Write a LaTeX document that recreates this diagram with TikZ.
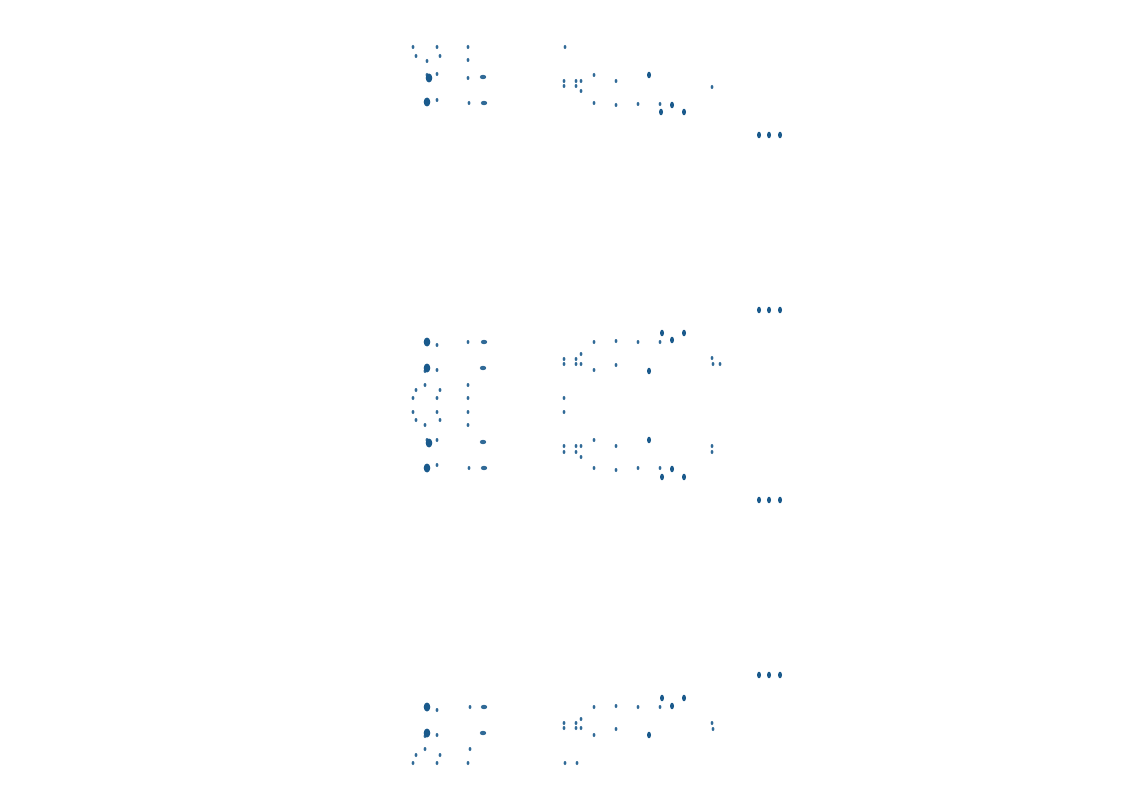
\documentclass[tikz,border=0pt]{standalone}
\usepackage{tikz}

\definecolor{speckblue}{HTML}{1A5A8C}

\tikzset{
  speck/.style={fill=speckblue, opacity=0.9},
  blob/.style={fill=speckblue}
}

\begin{document}
\begin{tikzpicture}[x=0.01cm, y=-0.01cm]
        \useasboundingbox[fill=white] (0,0) rectangle (1133,791);

        % small marks
        \foreach \px/\py in {413/47, 437/47, 468/47, 565/47, 416/56, 440/56, 427/61, 468/60,
                             427/75, 437/74, 468/78, 437/100, 469/103,
                             564/81, 564/86, 576/81, 576/86, 581/81, 581/91, 594/75, 616/81, 712/87,
                             594/103, 616/105, 638/104, 660/104,
                             437/345, 468/342, 425/371, 437/370,
                             425/385, 416/390, 440/390, 413/398, 437/398, 468/385, 468/398,
                             413/412, 437/412, 468/412, 416/420, 440/420, 425/425, 468/425,
                             427/440, 437/440, 437/465, 469/468,
                             594/342, 616/341, 638/342, 660/342,
                             581/354, 564/359, 576/359, 564/364, 576/364, 581/364,
                             594/370, 616/365, 712/358, 713/364, 720/364,
                             564/398, 564/412,
                             594/440, 616/446, 564/446, 576/446, 581/446, 564/452, 576/452, 581/457,
                             712/446, 712/452,
                             594/468, 616/470, 638/468, 660/468,
                             437/710, 470/707, 594/707, 616/706, 638/707, 660/707,
                             581/719, 564/723, 576/723, 564/728, 576/728, 581/728,
                             594/735, 616/729, 712/723, 713/729,
                             425/736, 437/735, 425/749, 470/749, 416/755, 440/755,
                             413/763, 437/763, 468/763, 565/763, 577/763}
          \fill[speck] (\px,\py) ellipse [x radius=1.4, y radius=2];

        % wider marks
        \foreach \px/\py in {484/103, 483/77, 484/342, 483/368, 483/442, 484/468, 484/707, 483/733}
          \fill[speck] (\px,\py) ellipse [x radius=3.2, y radius=2.2];

        % mid blobs
        \foreach \px/\py in {649/75, 672/105, 661/112, 684/112,
                             759/135, 769/135, 780/135, 759/310, 769/310, 780/310,
                             662/333, 684/333, 672/340, 649/371,
                             649/440, 672/469, 662/477, 684/477,
                             759/500, 769/500, 780/500, 759/675, 769/675, 780/675,
                             662/698, 684/698, 672/706, 649/735}
          \fill[blob] (\px,\py) ellipse [x radius=2, y radius=3.3];

        % large blobs
        \foreach \px/\py in {429/78, 427/102, 427/342, 427/368, 429/443, 427/468, 427/707, 427/733}
          \fill[blob] (\px,\py) ellipse [x radius=3.3, y radius=4.5];
    \end{tikzpicture}
\end{document}
